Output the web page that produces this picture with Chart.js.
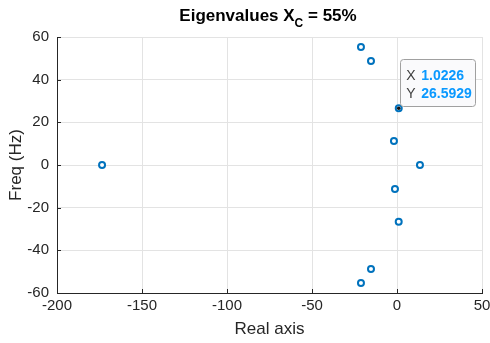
<!DOCTYPE html>
<html lang="en">
<head>
    <meta charset="UTF-8">
    <title>Eigenvalues</title>
    <script src="https://cdn.jsdelivr.net/npm/chart.js"></script>
    <style>
        body { margin: 0; background: #fff; }
        canvas#eigChart { display: block; }
    </style>
</head>
<body>
    <canvas id="eigChart" width="490" height="343"></canvas>

    <script>
        // Autovalores (parte real, frequência)
        const realParts = [-173.5, -21.2, -15.3, 1.0226, -1.8, 13.5, -1.2, 1.0, -15.3, -21.2];
        const freqHz    = [0, 55.3, 48.7, 26.5929, 11.2, 0, -11.2, -26.6, -48.7, -55.3];
        const xTicks = [-200, -150, -100, -50, 0, 50];
        const yTicks = [-60, -40, -20, 0, 20, 40, 60];
        const tipIndex = 3; // ponto com o datatip
        const titleMain = 'Eigenvalues X';
        const titleSub = 'C';
        const titleEnd = ' = 55%';

        const fontFam = '"Liberation Sans", Arial, Helvetica, sans-serif';
        const axisColor = '#262626';
        const blue = '#0072BD';

        const pontos = realParts.map((x, i) => ({ x: x, y: freqHz[i] }));

        // título com subscrito, ticks internos e datatip
        const extras = {
            id: 'extras',
            afterDraw(chart) {
                const ctx = chart.ctx;
                const xs = chart.scales.x, ys = chart.scales.y;
                const area = chart.chartArea;
                ctx.save();

                // ticks para dentro
                ctx.strokeStyle = axisColor;
                ctx.lineWidth = 1;
                ctx.beginPath();
                xTicks.forEach(v => {
                    const px = Math.round(xs.getPixelForValue(v)) + 0.5;
                    ctx.moveTo(px, area.bottom);
                    ctx.lineTo(px, area.bottom - 4);
                });
                yTicks.forEach(v => {
                    const py = Math.round(ys.getPixelForValue(v)) + 0.5;
                    ctx.moveTo(area.left, py);
                    ctx.lineTo(area.left + 4, py);
                });
                ctx.stroke();

                // título
                ctx.fillStyle = '#000';
                ctx.textBaseline = 'alphabetic';
                ctx.textAlign = 'left';
                const fMain = 'bold 17px ' + fontFam;
                const fSub = 'bold 12px ' + fontFam;
                ctx.font = fMain;
                const w1 = ctx.measureText(titleMain).width;
                const w3 = ctx.measureText(titleEnd).width;
                ctx.font = fSub;
                const w2 = ctx.measureText(titleSub).width;
                let tx = 268 - (w1 + w2 + w3) / 2;
                const base = 21;
                ctx.font = fMain;
                ctx.fillText(titleMain, tx, base);
                tx += w1;
                ctx.font = fSub;
                ctx.fillText(titleSub, tx, base + 6);
                tx += w2;
                ctx.font = fMain;
                ctx.fillText(titleEnd, tx, base);

                // datatip
                const px = xs.getPixelForValue(realParts[tipIndex]);
                const py = ys.getPixelForValue(freqHz[tipIndex]);
                ctx.fillStyle = '#111';
                ctx.beginPath();
                ctx.arc(px, py, 1.8, 0, Math.PI * 2);
                ctx.fill();

                const bx = px + 1.5, by = py - 49, bw = 75, bh = 47;
                ctx.fillStyle = 'rgba(250,250,252,0.95)';
                ctx.strokeStyle = '#a0a0a0';
                ctx.lineWidth = 1;
                ctx.beginPath();
                ctx.roundRect(Math.round(bx) + 0.5, Math.round(by) + 0.5, bw, bh, 3);
                ctx.fill();
                ctx.stroke();

                ctx.font = '14px ' + fontFam;
                ctx.fillStyle = '#404040';
                ctx.fillText('X', bx + 6, by + 21);
                ctx.fillText('Y', bx + 6, by + 39);
                ctx.font = 'bold 14px ' + fontFam;
                ctx.fillStyle = '#0a99ff';
                ctx.fillText(realParts[tipIndex].toFixed(4), bx + 21, by + 21);
                ctx.fillText(freqHz[tipIndex].toFixed(4), bx + 21, by + 39);

                ctx.restore();
            }
        };

        const ctx = document.getElementById('eigChart').getContext('2d');
        const eigChart = new Chart(ctx, {
            type: 'scatter',
            data: {
                datasets: [{
                    label: 'Autovalores',
                    data: pontos,
                    pointStyle: 'circle',
                    pointRadius: 3,
                    pointBorderWidth: 2,
                    borderColor: blue,
                    pointBackgroundColor: '#ffffff',
                    pointHoverRadius: 3
                }]
            },
            options: {
                responsive: false,
                animation: false,
                events: [],
                layout: { padding: { top: 37, right: 8, bottom: 0, left: 0 } },
                plugins: {
                    legend: { display: false },
                    tooltip: { enabled: false }
                },
                scales: {
                    x: {
                        type: 'linear',
                        min: -200,
                        max: 50,
                        afterBuildTicks: s => { s.ticks = xTicks.map(v => ({ value: v })); },
                        afterFit: s => { s.height = 50; s.paddingLeft = 0; s.paddingRight = 0; },
                        grid: { color: '#e3e3e3', drawTicks: false },
                        border: { color: axisColor, width: 1 },
                        ticks: {
                            padding: 4,
                            color: axisColor,
                            font: { family: fontFam, size: 15 },
                            maxRotation: 0
                        },
                        title: {
                            display: true,
                            text: 'Real axis',
                            color: axisColor,
                            font: { family: fontFam, size: 17 },
                            padding: { top: 0, bottom: 3 }
                        }
                    },
                    y: {
                        type: 'linear',
                        min: -60,
                        max: 60,
                        afterBuildTicks: s => { s.ticks = yTicks.map(v => ({ value: v })); },
                        afterFit: s => { s.width = 57; s.paddingTop = 0; s.paddingBottom = 0; },
                        grid: { color: '#e3e3e3', drawTicks: false },
                        border: { color: axisColor, width: 1 },
                        ticks: {
                            padding: 8,
                            color: axisColor,
                            font: { family: fontFam, size: 15 }
                        },
                        title: {
                            display: true,
                            text: 'Freq (Hz)',
                            color: axisColor,
                            font: { family: fontFam, size: 17 },
                            padding: { top: 6, bottom: 0 }
                        }
                    }
                }
            },
            plugins: [extras]
        });
    </script>
</body>
</html>
